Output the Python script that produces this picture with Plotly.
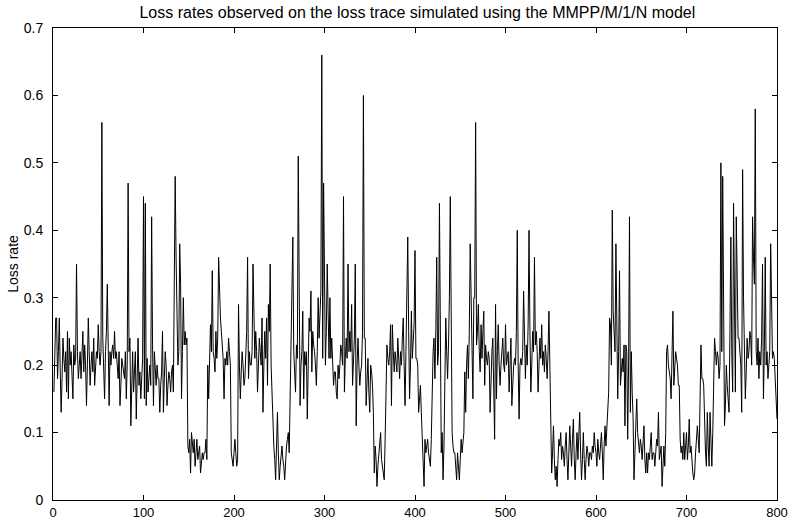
import plotly.graph_objects as go

title_text = "Loss rates observed on the loss trace simulated using the MMPP/M/1/N model"
y_label = "Loss rate"
x_ticks = [0, 100, 200, 300, 400, 500, 600, 700, 800]
y_ticks = [0, 0.1, 0.2, 0.3, 0.4, 0.5, 0.6, 0.7]
y_tick_labels = ["0", "0.1", "0.2", "0.3", "0.4", "0.5", "0.6", "0.7"]

loss_0_99 = [
    .16, .20, .27, .27, .18, .22, .27, .19, .13, .18,
    .24, .21, .19, .22, .16, .25, .15, .24, .20, .22,
    .18, .15, .23, .20, .21, .35, .22, .18, .20, .22,
    .18, .21, .25, .19, .23, .20, .14, .20, .27, .22,
    .17, .20, .22, .19, .24, .17, .20, .22, .21, .26,
    .22, .20, .22, .56, .24, .20, .15, .22, .25, .32,
    .20, .14, .22, .20, .22, .23, .21, .25, .21, .22,
    .20, .18, .22, .14, .17, .21, .20, .19, .18, .22,
    .15, .20, .47, .22, .24, .11, .19, .22, .16, .20,
    .22, .12, .18, .24, .17, .19, .15, .20, .21, .45]
loss_100_199 = [
    .15, .44, .14, .21, .16, .18, .20, .17, .42, .23,
    .14, .22, .19, .17, .20, .18, .18, .13, .17, .19,
    .25, .13, .18, .22, .20, .14, .17, .19, .18, .16,
    .19, .20, .16, .30, .48, .36, .25, .20, .22, .38,
    .32, .15, .22, .30, .23, .25, .23, .24, .08, .07,
    .09, .04, .10, .08, .07, .09, .05, .07, .09, .06,
    .07, .08, .04, .06, .07, .06, .07, .07, .09, .06,
    .20, .15, .22, .26, .22, .34, .22, .21, .19, .25,
    .21, .24, .36, .30, .27, .25, .23, .21, .15, .21,
    .20, .22, .20, .24, .22, .20, .07, .06, .05, .07]
loss_200_299 = [
    .09, .07, .05, .06, .29, .20, .15, .19, .22, .20,
    .17, .18, .22, .25, .36, .18, .22, .20, .20, .22,
    .35, .28, .21, .25, .22, .16, .20, .24, .22, .20,
    .27, .13, .20, .25, .21, .27, .17, .29, .25, .35,
    .20, .15, .11, .08, .06, .03, .08, .13, .07, .03,
    .05, .07, .08, .06, .05, .03, .06, .08, .09, .10,
    .07, .15, .25, .32, .39, .22, .18, .16, .23, .21,
    .51, .30, .14, .20, .22, .28, .15, .22, .20, .22,
    .12, .20, .27, .25, .31, .19, .25, .23, .22, .20,
    .17, .22, .30, .24, .28, .31, .66, .21, .47, .34]
loss_300_399 = [
    .20, .25, .35, .28, .21, .30, .21, .24, .20, .17,
    .19, .19, .16, .15, .20, .18, .20, .23, .22, .20,
    .45, .16, .21, .24, .21, .35, .22, .25, .22, .29,
    .17, .20, .24, .35, .11, .20, .24, .20, .17, .19,
    .20, .25, .60, .24, .24, .14, .18, .21, .16, .13,
    .20, .19, .17, .13, .04, .08, .06, .02, .05, .07,
    .09, .10, .06, .05, .04, .03, .09, .15, .23, .21,
    .20, .22, .26, .14, .26, .22, .19, .22, .20, .19,
    .24, .21, .18, .22, .20, .24, .27, .20, .14, .22,
    .30, .39, .25, .15, .20, .28, .21, .24, .26, .37]
loss_400_499 = [
    .21, .21, .20, .13, .16, .17, .13, .08, .04, .02,
    .09, .07, .08, .09, .07, .06, .05, .09, .20, .22,
    .24, .18, .25, .36, .20, .22, .44, .13, .07, .10,
    .03, .08, .20, .27, .22, .18, .23, .30, .45, .20,
    .10, .08, .07, .07, .05, .03, .07, .05, .03, .06,
    .09, .07, .09, .10, .19, .13, .20, .23, .18, .25,
    .38, .28, .26, .15, .30, .30, .56, .23, .25, .29,
    .22, .19, .26, .21, .25, .28, .17, .23, .21, .20,
    .22, .21, .13, .20, .22, .24, .18, .09, .29, .15,
    .22, .26, .20, .17, .20, .22, .24, .20, .19, .26]
loss_500_599 = [
    .20, .21, .22, .16, .20, .24, .14, .18, .20, .21,
    .20, .25, .40, .20, .12, .20, .21, .20, .22, .31,
    .22, .18, .23, .20, .26, .40, .25, .16, .20, .25,
    .22, .36, .23, .25, .22, .16, .20, .24, .21, .26,
    .20, .22, .19, .23, .21, .18, .22, .28, .20, .12,
    .04, .07, .11, .06, .03, .05, .02, .06, .09, .08,
    .10, .06, .08, .07, .05, .08, .10, .06, .03, .07,
    .11, .08, .05, .09, .12, .06, .03, .07, .10, .06,
    .09, .13, .07, .03, .06, .10, .06, .03, .06, .08,
    .07, .05, .07, .07, .06, .08, .07, .10, .08, .07]
loss_600_699 = [
    .05, .09, .07, .06, .08, .10, .07, .03, .08, .11,
    .08, .11, .12, .16, .27, .26, .20, .43, .28, .25,
    .22, .38, .20, .15, .22, .34, .17, .20, .21, .19,
    .23, .11, .23, .22, .09, .20, .42, .13, .22, .16,
    .12, .03, .07, .10, .15, .10, .08, .07, .09, .08,
    .06, .08, .11, .06, .04, .07, .04, .07, .06, .08,
    .10, .06, .07, .07, .05, .07, .09, .08, .13, .06,
    .07, .08, .02, .06, .08, .05, .10, .22, .23, .20,
    .19, .18, .15, .20, .28, .17, .20, .22, .21, .20,
    .17, .17, .09, .07, .08, .06, .10, .06, .08, .10]
loss_700_799 = [
    .06, .08, .12, .07, .08, .05, .04, .03, .04, .07,
    .10, .11, .09, .07, .15, .23, .18, .18, .17, .09,
    .07, .05, .13, .08, .05, .13, .08, .05, .10, .18,
    .24, .22, .20, .22, .21, .18, .20, .50, .22, .48,
    .20, .11, .14, .20, .17, .15, .13, .25, .39, .22,
    .16, .44, .20, .16, .42, .30, .24, .24, .21, .20,
    .13, .49, .30, .23, .15, .19, .24, .21, .22, .25,
    .24, .20, .42, .36, .32, .58, .22, .20, .24, .18,
    .22, .20, .24, .35, .15, .22, .36, .20, .22, .18,
    .20, .22, .38, .25, .21, .22, .21, .18, .15, .12]

loss_rate = (loss_0_99 + loss_100_199 + loss_200_299 + loss_300_399 +
             loss_400_499 + loss_500_599 + loss_600_699 + loss_700_799)
sample_index = list(range(1, len(loss_rate) + 1))

FONT = "Liberation Sans, Arial, Helvetica, sans-serif"

fig = go.Figure()
fig.add_trace(go.Scatter(x=sample_index, y=loss_rate, mode="lines",
                         line=dict(color="black", width=1), showlegend=False))

fig.update_layout(
    width=792, height=520,
    margin=dict(l=53, r=15, t=28, b=20, autoexpand=False),
    paper_bgcolor="white", plot_bgcolor="white",
    font=dict(family=FONT, color="black", size=14),
    title=dict(text=title_text, x=0.527, xanchor="center", xref="container",
               y=0.976, yanchor="middle", yref="container",
               font=dict(family=FONT, size=16, color="black")),
)
fig.update_xaxes(range=[0, 800], tickvals=x_ticks, ticks="inside", ticklen=5,
                 tickcolor="black", showline=True, linecolor="black", linewidth=1,
                 mirror="ticks", showgrid=False, zeroline=False, automargin=False,
                 tickfont=dict(family=FONT, size=13, color="black"))
fig.update_yaxes(range=[0, 0.7], tickvals=y_ticks, ticktext=y_tick_labels,
                 ticks="inside", ticklen=5, tickcolor="black", showline=True,
                 linecolor="black", linewidth=1, mirror="ticks", showgrid=False,
                 zeroline=False, automargin=False, ticklabelstandoff=6,
                 tickfont=dict(family=FONT, size=14, color="black"),
                 title=dict(text=y_label, standoff=1,
                            font=dict(family=FONT, size=14, color="black")))

fig.write_html("out.html", config={"displayModeBar": False},
               post_script="document.body.style.margin='0';document.body.style.padding='0';")
